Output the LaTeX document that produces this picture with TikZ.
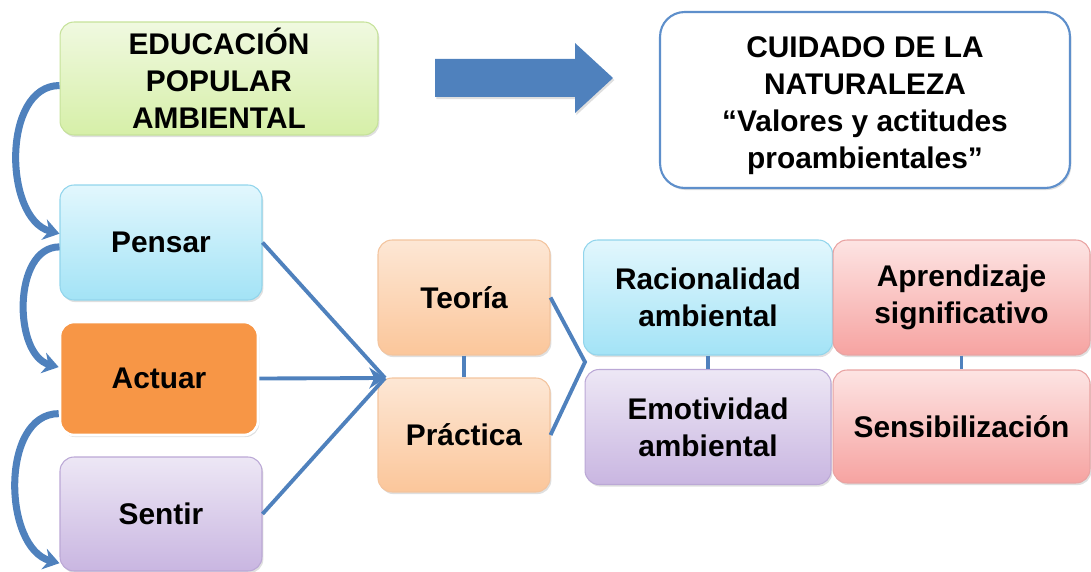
\documentclass[tikz,border=0pt]{standalone}
\usepackage{fontspec}
\setmainfont{Liberation Sans}
\usetikzlibrary{arrows.meta, shadows}

\definecolor{linkblue}{HTML}{4F81BD}
\definecolor{greentop}{HTML}{F0F9E0}
\definecolor{greenbot}{HTML}{D6EFA8}
\definecolor{greenline}{HTML}{C6E29A}
\definecolor{skytop}{HTML}{E2F7FD}
\definecolor{skybot}{HTML}{A3E3F6}
\definecolor{skyline}{HTML}{92D5EC}
\definecolor{lilactop}{HTML}{EDE7F5}
\definecolor{lilacbot}{HTML}{C9B6E1}
\definecolor{lilacline}{HTML}{BBA8D6}
\definecolor{peachtop}{HTML}{FDE7D5}
\definecolor{peachbot}{HTML}{FBC69A}
\definecolor{peachline}{HTML}{F3C49E}
\definecolor{rosetop}{HTML}{FDE4E3}
\definecolor{rosebot}{HTML}{F6A3A1}
\definecolor{roseline}{HTML}{E9A3A2}
\definecolor{actorange}{HTML}{F79646}
\definecolor{cuidline}{HTML}{5E8FCB}

\tikzset{
  box/.style={rounded corners=8pt, line width=0.6pt, align=center, inner sep=0pt,
    font=\fontsize{17}{21}\selectfont\bfseries,
    drop shadow={opacity=0.25, shadow xshift=0.8pt, shadow yshift=-1.2pt}},
  greenbox/.style={box, draw=greenline, top color=greentop, bottom color=greenbot},
  skybox/.style={box, draw=skyline, top color=skytop, bottom color=skybot},
  lilacbox/.style={box, draw=lilacline, top color=lilactop, bottom color=lilacbot},
  peachbox/.style={box, draw=peachline, top color=peachtop, bottom color=peachbot},
  rosebox/.style={box, draw=roseline, top color=rosetop, bottom color=rosebot},
  link/.style={draw=linkblue, line width=2.2pt},
  loopy/.style={draw=linkblue, line width=4pt, -{Stealth[length=9pt, width=12pt]}}
}

\begin{document}
\begin{tikzpicture}[x=0.02cm, y=-0.02cm]
\useasboundingbox (0, 0) rectangle (1091, 571);

% top row
\node[greenbox, minimum width=6.36cm, minimum height=2.26cm] at (219, 78.5) (edu) {EDUCACIÓN\\POPULAR\\AMBIENTAL};
\node[box, fill=white, draw=cuidline, line width=1.2pt, rounded corners=14pt, minimum width=8.2cm, minimum height=3.52cm, text height=2.85cm] at (865, 100) (cuidado) {CUIDADO DE LA\\NATURALEZA\\“Valores y actitudes\\proambientales”};
\fill[linkblue, drop shadow={opacity=0.25, shadow xshift=0.8pt, shadow yshift=-1.2pt}] (435, 59) -- (575, 59) -- (575, 43) -- (613, 78) -- (575, 113) -- (575, 97) -- (435, 97) -- cycle;

% left column
\node[skybox, minimum width=4.04cm, minimum height=2.3cm] at (161, 242.5) (pensar) {Pensar};
\node[box, fill=actorange, draw=white, line width=1.5pt, minimum width=3.96cm, minimum height=2.26cm] at (159, 378.5) (actuar) {Actuar};
\node[lilacbox, minimum width=4.04cm, minimum height=2.28cm] at (161, 514) (sentir) {Sentir};

% middle and right
\node[peachbox, minimum width=3.44cm, minimum height=2.3cm] at (464, 297.5) (teoria) {Teoría};
\node[peachbox, minimum width=3.44cm, minimum height=2.28cm] at (464, 435) (practica) {Práctica};
\node[skybox, minimum width=4.98cm, minimum height=2.3cm] at (708, 297.5) (racional) {Racionalidad\\ambiental};
\node[lilacbox, minimum width=4.92cm, minimum height=2.3cm] at (708, 427) (emotiv) {Emotividad\\ambiental};
\node[rosebox, minimum width=5.14cm, minimum height=2.3cm] at (961.5, 297.5) (aprend) {Aprendizaje\\significativo};
\node[rosebox, minimum width=5.14cm, minimum height=2.26cm] at (961.5, 426.5) (sensib) {Sensibilización};

% connectors
\coordinate (meet) at (385, 378);
\coordinate (join) at (585, 362);
\foreach \n in {pensar, sentir}
  \draw[link] (\n.east) -- (meet);
\draw[link, -{Stealth[length=9pt, width=12pt]}] (actuar.east) -- (meet);
\draw[link] (teoria.east) -- (join) -- (practica.east);
\draw[link] (teoria.south) -- (practica.north);
\draw[link] (racional.south) -- (emotiv.north);
\draw[link] (aprend.south) -- (sensib.north);

\draw[loopy] ([yshift=-4pt]edu.west) to[out=180, in=165] ([yshift=5pt]pensar.west);
\draw[loopy] ([yshift=-2.5pt]pensar.west) to[out=180, in=165] ([yshift=6.5pt]actuar.west);
\draw[loopy] ([yshift=-20pt]actuar.west) to[out=180, in=165] ([yshift=-28pt]sentir.west);

\end{tikzpicture}
\end{document}
